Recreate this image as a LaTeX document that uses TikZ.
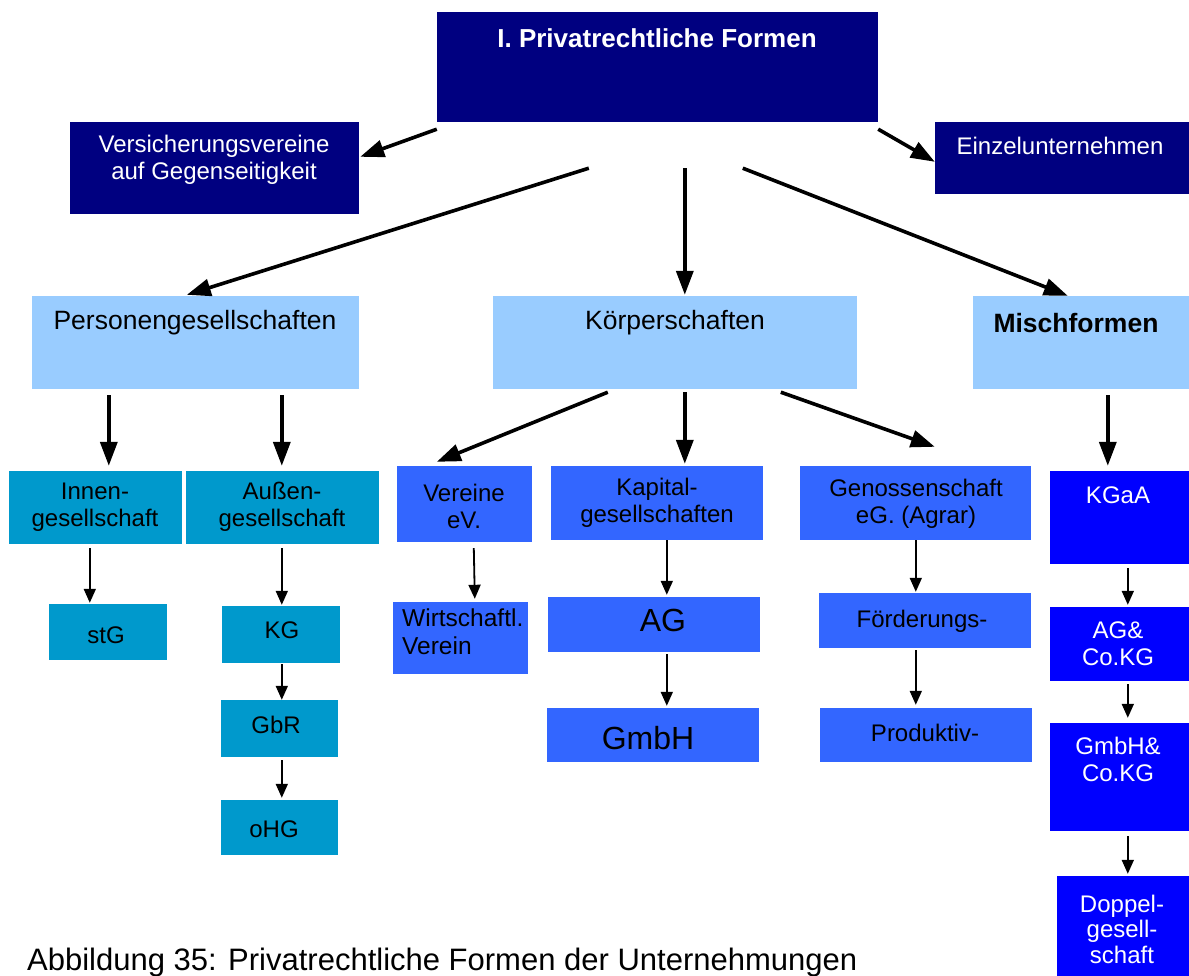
\documentclass[tikz,border=0pt]{standalone}
\usepackage{fontspec}
\setmainfont{Liberation Sans}
\usetikzlibrary{arrows.meta,calc,fit}
\definecolor{navy}{HTML}{000080}
\definecolor{lightb}{HTML}{99CCFF}
\definecolor{teal2}{HTML}{0099CC}
\definecolor{medb}{HTML}{3366FF}
\definecolor{pureb}{HTML}{0000FF}
\tikzset{
  boxbase/.style={inner sep=0pt, draw=none},
  navybox/.style={boxbase, fill=navy},
  lightbox/.style={boxbase, fill=lightb},
  tealbox/.style={boxbase, fill=teal2},
  medbox/.style={boxbase, fill=medb},
  purebox/.style={boxbase, fill=pureb},
  txt/.style={inner sep=0pt, align=center, font=\fontsize{24}{27}\selectfont},
  wtxt/.style={txt, text=white},
  bigarrow/.style={line width=3.6pt, -{Triangle[length=24pt,width=17pt]}},
  smallarrow/.style={line width=1.8pt, -{Triangle[length=14pt,width=12pt]}},
}
\begin{document}
\begin{tikzpicture}[x=1pt,y=-1pt]
\useasboundingbox (0,0) rectangle (1189,976);
% boxes
\node[navybox, fit={(437,12)(878,122)}] (top) {};
\node[navybox, fit={(70,122)(359,214)}] (vv) {};
\node[navybox, fit={(935,122)(1189,194)}] (ez) {};
\node[lightbox, fit={(32,296)(359,389)}] (pg) {};
\node[lightbox, fit={(493,296)(857,389)}] (ks) {};
\node[lightbox, fit={(973,296)(1189,389)}] (mf) {};
\node[tealbox, fit={(9,471)(182,544)}] (ig) {};
\node[tealbox, fit={(186,471)(379,544)}] (au) {};
\node[medbox, fit={(397,466)(532,542)}] (ve) {};
\node[medbox, fit={(551,466)(763,540)}] (kap) {};
\node[medbox, fit={(800,466)(1031,540)}] (gen) {};
\node[purebox, fit={(1050,471)(1189,564)}] (kgaa) {};
\node[tealbox, fit={(49,604)(167,660)}] (stg) {};
\node[tealbox, fit={(222,606)(340,663)}] (kg) {};
\node[medbox, fit={(393,602)(528,674)}] (wv) {};
\node[medbox, fit={(548,597)(760,652)}] (ag) {};
\node[medbox, fit={(819,593)(1031,648)}] (foe) {};
\node[purebox, fit={(1050,607)(1189,681)}] (agco) {};
\node[tealbox, fit={(221,700)(338,757)}] (gbr) {};
\node[medbox, fit={(547,708)(759,762)}] (gmbh) {};
\node[medbox, fit={(820,708)(1032,762)}] (prod) {};
\node[purebox, fit={(1050,723)(1189,831)}] (gmco) {};
\node[tealbox, fit={(221,800)(338,855)}] (ohg) {};
\node[purebox, fit={(1057,876)(1189,976)}] (dop) {};
% texts
\node[wtxt, font=\fontsize{26}{30}\bfseries] (ttop) at (657,38) {I. Privatrechtliche Formen};
\node[wtxt] (tvv) at (214,160) {Versicherungsvereine\\auf Gegenseitigkeit};
\node[wtxt] (tez) at (1060,146) {Einzelunternehmen};
\node[txt, font=\fontsize{26.5}{30}\selectfont] (tpg) at (195,323) {Personengesellschaften};
\node[txt, font=\fontsize{26.5}{30}\selectfont] (tks) at (675,323) {Körperschaften};
\node[txt, font=\fontsize{26.5}{30}\bfseries] (tmf) at (1076,323) {Mischformen};
\node[txt] (tig) at (95,507) {Innen-\\gesellschaft};
\node[txt] (tau) at (282,507) {Außen-\\gesellschaft};
\node[txt] (tve) at (464,506) {Vereine\\eV.};
\node[txt] (tkap) at (657,503) {Kapital-\\gesellschaften};
\node[txt] (tgen) at (916,504) {Genossenschaft\\eG. (Agrar)};
\node[wtxt] (tkgaa) at (1118,495) {KGaA};
\node[txt] (tstg) at (106,635) {stG};
\node[txt] (tkg) at (282,630) {KG};
\node[txt, align=left, anchor=west, font=\fontsize{24.5}{28}\selectfont] (twv) at (402,632) {Wirtschaftl.\\Verein};
\node[txt, font=\fontsize{32}{36}\selectfont] (tag) at (663,620) {AG};
\node[txt] (tfoe) at (922,621) {Förderungs-};
\node[wtxt] (tagco) at (1118,644) {AG\&\\Co.KG};
\node[txt] (tgbr) at (276,725) {GbR};
\node[txt, font=\fontsize{32}{36}\selectfont] (tgmbh) at (648,738) {GmbH};
\node[txt] (tprod) at (925,733) {Produktiv-};
\node[wtxt] (tgmco) at (1118,759) {GmbH\&\\Co.KG};
\node[txt] (tohg) at (274,829) {oHG};
\node[wtxt, font=\fontsize{24}{25.5}\selectfont] (tdop) at (1122,929) {Doppel-\\gesell-\\schaft};
\node[txt, anchor=west, font=\fontsize{31}{34}\selectfont] (cap) at (27,962) {Abbildung 35: Privatrechtliche Formen der Unternehmungen};
% big arrows
\draw[bigarrow] ($(top.south west)+(0,7)$) -- ($(vv.north east)+(1,35)$);
\draw[bigarrow] ($(top.south west)+(152,46)$) -- ($(pg.north west)+(155,-1)$);
\draw[bigarrow] ($(top.south west)+(248,46)$) -- ($(ks.north west)+(192,-1)$);
\draw[bigarrow] ($(top.south west)+(306,46)$) -- ($(mf.north west)+(95,0)$);
\draw[bigarrow] ($(top.south east)+(0,7)$) -- ($(ez.north west)+(0,40)$);
\draw[bigarrow] ($(pg.south west)+(77,6)$) -- ($(ig.north west)+(100,-5)$);
\draw[bigarrow] ($(pg.south west)+(250,6)$) -- ($(au.north west)+(96,-5)$);
\draw[bigarrow] ($(ks.south west)+(115,3)$) -- ($(ve.north west)+(40,-4)$);
\draw[bigarrow] ($(ks.south west)+(192,3)$) -- ($(kap.north west)+(134,-2)$);
\draw[bigarrow] ($(ks.south west)+(288,3)$) -- ($(gen.north west)+(135,-19)$);
\draw[bigarrow] ($(mf.south west)+(135,6)$) -- ($(kgaa.north west)+(58,-5)$);
% small arrows
\draw[smallarrow] ($(ig.south west)+(81,4)$) -- ($(stg.north west)+(41,-1)$);
\draw[smallarrow] ($(au.south west)+(96,4)$) -- ($(kg.north west)+(60,-1)$);
\draw[smallarrow] ($(ve.south west)+(77,6)$) -- ($(wv.north west)+(82,-3)$);
\draw[smallarrow] ($(kap.south west)+(116,0)$) -- ($(ag.north west)+(119,-2)$);
\draw[smallarrow] ($(gen.south west)+(116,0)$) -- ($(foe.north west)+(97,-1)$);
\draw[smallarrow] ($(kgaa.south west)+(78,4)$) -- ($(agco.north west)+(78,-2)$);
\draw[smallarrow] ($(kg.south west)+(60,1)$) -- ($(gbr.north west)+(61,0)$);
\draw[smallarrow] ($(gbr.south west)+(61,3)$) -- ($(ohg.north west)+(61,-2)$);
\draw[smallarrow] ($(ag.south west)+(119,2)$) -- ($(gmbh.north west)+(120,-2)$);
\draw[smallarrow] ($(foe.south west)+(97,2)$) -- ($(prod.north west)+(96,-3)$);
\draw[smallarrow] ($(agco.south west)+(78,3)$) -- ($(gmco.north west)+(78,-5)$);
\draw[smallarrow] ($(gmco.south west)+(78,5)$) -- ($(dop.north west)+(71,-2)$);
\end{tikzpicture}
\end{document}
